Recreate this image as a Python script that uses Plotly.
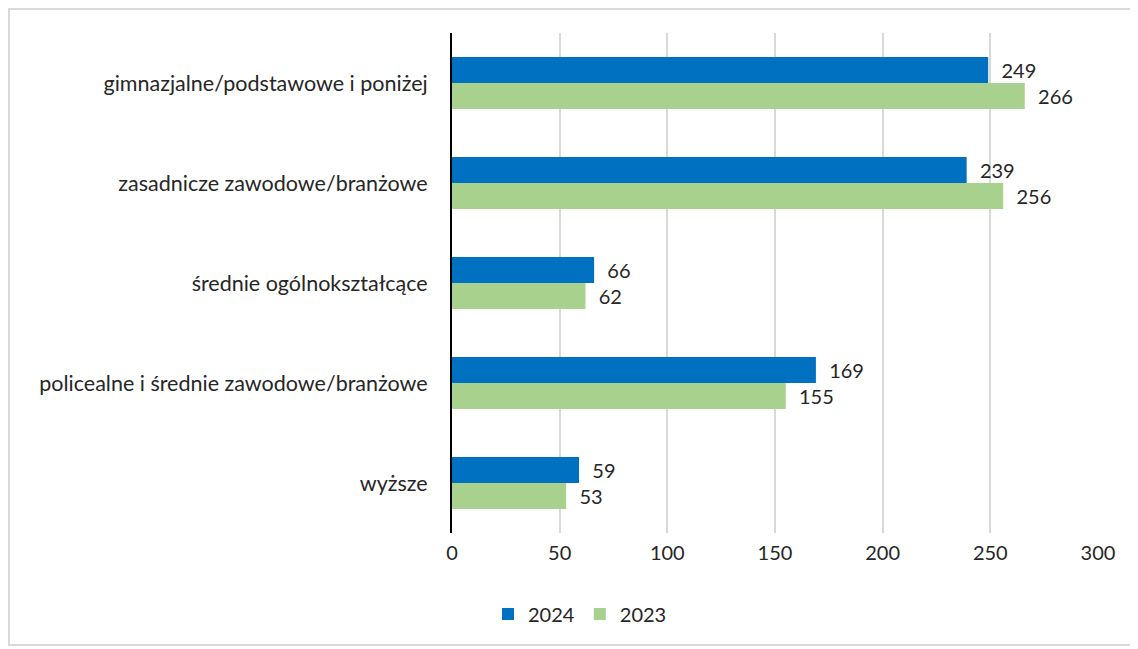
import plotly.graph_objects as go

categories = ["gimnazjalne/podstawowe i poniżej", "zasadnicze zawodowe/branżowe",
              "średnie ogólnokształcące", "policealne i średnie zawodowe/branżowe", "wyższe"]
v2024 = [249, 239, 66, 169, 59]
v2023 = [266, 256, 62, 155, 53]
xticks = [0, 50, 100, 150, 200, 250, 300]

FONT = "Lato"
TXT = "#262626"
FS = 20

fig = go.Figure()
for name, vals, col in [("2024", v2024, "#0070C0"), ("2023", v2023, "#A9D18E")]:
    fig.add_trace(go.Bar(name=name, y=categories, x=vals, orientation="h",
                         marker=dict(color=col, line=dict(width=0)),
                         text=[f"  {v}" for v in vals], textposition="outside",
                         textfont=dict(size=FS, color=TXT, family=FONT), cliponaxis=False))

L, T = 444, 25
PW, PH = 646, 500
fig.update_layout(
    width=1130, height=641,
    margin=dict(l=L, r=40, t=T, b=116),
    barmode="group", bargap=0.48, bargroupgap=0,
    plot_bgcolor="white", paper_bgcolor="white",
    font=dict(family=FONT, size=FS, color=TXT),
    xaxis=dict(range=[0, 300], tickvals=xticks, showgrid=True, gridcolor="#D9D9D9",
               gridwidth=1.5, zeroline=False, showline=False, ticks="",
               ticklabelstandoff=6, tickfont=dict(size=FS, color=TXT)),
    yaxis=dict(autorange="reversed", showline=True, linecolor="black", linewidth=2,
               ticks="", ticklabelstandoff=18, tickfont=dict(size=21.5, color=TXT)),
    legend=dict(orientation="h", x=(572 - L) / PW, xanchor="center",
                y=-(606 - (T + PH)) / PH, yanchor="middle", itemwidth=30,
                font=dict(size=FS, color=TXT), traceorder="normal"),
    shapes=[dict(type="rect", xref="paper", yref="paper",
                 x0=(1 - L) / PW, x1=(1135 - L) / PW,
                 y0=-(637 - (T + PH)) / PH, y1=1 + (T - 1) / PH,
                 line=dict(color="#D9D9D9", width=2), fillcolor="rgba(0,0,0,0)", layer="below")],
)

fig.write_html("out.html")
